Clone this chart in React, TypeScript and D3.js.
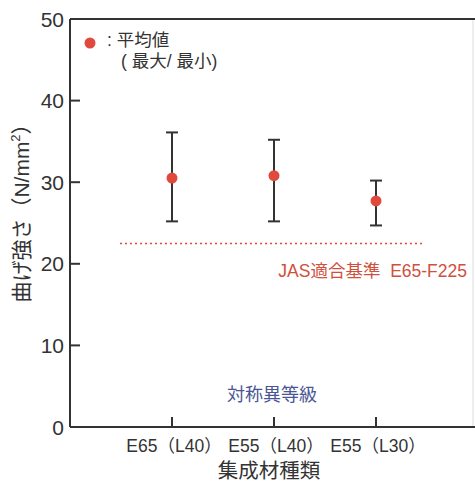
import React from "react";
import * as d3 from "d3";

const categories = ["E65（L40）", "E55（L40）", "E55（L30）"];
const meanValues = [30.5, 30.8, 27.7];
const maxValues = [36.1, 35.2, 30.2];
const minValues = [25.2, 25.2, 24.7];
const yTicks = [0, 10, 20, 30, 40, 50];
const jasValue = 22.5;

const W = 475, H = 485;
const left = 70, right = 473, top = 19, bottom = 427;
const FONT = "'Liberation Sans', 'Noto Sans CJK JP', sans-serif";
const JFONT = "'Noto Sans CJK JP', sans-serif";

export default function App() {
  const y = d3.scaleLinear().domain([0, 50]).range([bottom, top]);
  const x = d3.scalePoint<string>().domain(categories).range([172, 376]);
  const red = "#e04a3c";
  const dark = "#333";
  return (
    <svg width={W} height={H} style={{ position: "absolute", left: 0, top: 0, background: "#fff" }}>
      {/* frame */}
      <line x1={right} x2={right} y1={top} y2={bottom} stroke="#ddd" strokeWidth={1} />
      <line x1={left} x2={W} y1={top} y2={top} stroke={dark} strokeWidth={2} />
      <line x1={left} x2={left} y1={top} y2={bottom} stroke={dark} strokeWidth={2} />
      <line x1={left} x2={W} y1={bottom} y2={bottom} stroke={dark} strokeWidth={2} />
      {yTicks.map((t) => (
        <g key={t}>
          {t > 0 && t < 50 && (
            <line x1={left} x2={left + 10} y1={y(t)} y2={y(t)} stroke={dark} strokeWidth={2} />
          )}
          <text x={64} y={y(t)} dy="0.36em" textAnchor="end" fontSize={21} fill={dark} fontFamily={FONT}>
            {t}
          </text>
        </g>
      ))}
      {categories.map((c) => (
        <g key={c}>
          <line x1={x(c)} x2={x(c)} y1={bottom} y2={bottom - 10} stroke={dark} strokeWidth={2} />
          <text x={x(c)! + 2} y={452} textAnchor="middle" fontSize={17.5} fill={dark} fontFamily={FONT}>
            {c}
          </text>
        </g>
      ))}
      {/* JAS line */}
      <line x1={120} x2={423} y1={y(jasValue)} y2={y(jasValue)} stroke={red} strokeWidth={1.5} strokeDasharray="2,3" />
      <text x={467} y={277} textAnchor="end" fontSize={17.5} fill="#d0503e" fontFamily={FONT}>
        JAS適合基準{"\u00A0\u00A0"}E65-F225
      </text>
      {/* error bars */}
      {categories.map((c, i) => (
        <g key={"e" + c}>
          <line x1={x(c)} x2={x(c)} y1={y(maxValues[i])} y2={y(minValues[i])} stroke={dark} strokeWidth={2} />
          <line x1={x(c)! - 6} x2={x(c)! + 6} y1={y(maxValues[i])} y2={y(maxValues[i])} stroke={dark} strokeWidth={2} />
          <line x1={x(c)! - 6} x2={x(c)! + 6} y1={y(minValues[i])} y2={y(minValues[i])} stroke={dark} strokeWidth={2} />
          <circle cx={x(c)} cy={y(meanValues[i])} r={5.5} fill={red} />
        </g>
      ))}
      {/* legend */}
      <circle cx={90} cy={43} r={5.5} fill={red} />
      <text fontSize={17.5} fill={dark} fontFamily={FONT}>
        <tspan x={107} y={46}>: 平均値</tspan>
        <tspan x={121} y={67}>( 最大/ 最小)</tspan>
      </text>
      <text x={272} y={401} textAnchor="middle" fontSize={18} fill="#4a5596" fontFamily={JFONT}>
        対称異等級
      </text>
      {/* axis titles */}
      <text transform={`translate(29, 208) rotate(-90)`} textAnchor="middle" fontSize={21} fill={dark} fontFamily={FONT}>
        曲げ強さ（N/mm<tspan fontSize={13} dy={-9}>2</tspan><tspan dy={9}>）</tspan>
      </text>
      <text x={269} y={478} textAnchor="middle" fontSize={20.5} fill={dark} fontFamily={JFONT}>
        集成材種類
      </text>
    </svg>
  );
}
